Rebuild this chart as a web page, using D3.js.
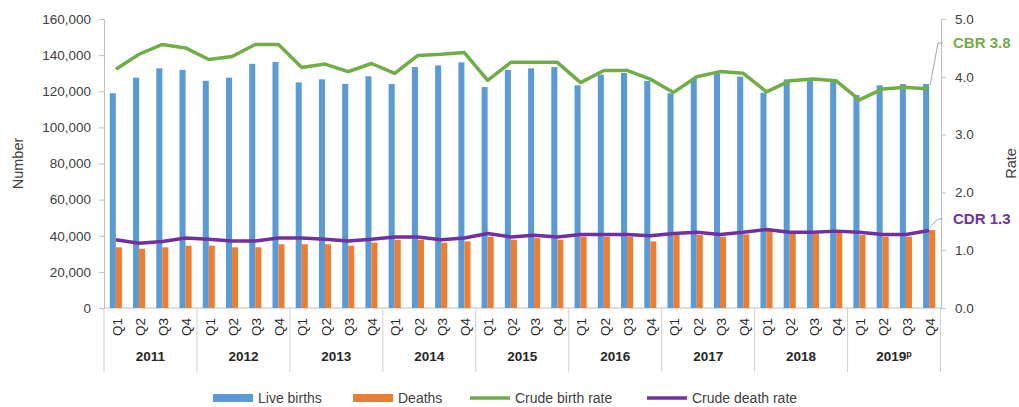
<!DOCTYPE html>
<html>
<head>
<meta charset="utf-8">
<script src="https://cdn.jsdelivr.net/npm/d3@7"></script>
<style>
  body { margin: 0; background: #fff; }
  svg { font-family: "Liberation Sans", Arial, sans-serif; }
  .axis text { fill: #404040; font-size: 13.5px; }
  .axis path, .axis line { stroke: #bfbfbf; }
</style>
</head>
<body>
<div id="chart"></div>
<script>
// Quarterly births and deaths, 2011 - 2019
const years = ['2011', '2012', '2013', '2014', '2015', '2016', '2017', '2018', '2019'];
const quarters = ['Q1', 'Q2', 'Q3', 'Q4'];

const liveBirths = [
    118900, 127500, 132700, 131800,
    125800, 127500, 135200, 136200,
    124900, 126600, 124100, 128300,
    124000, 133400, 134300, 136000,
    122300, 131800, 132700, 133400,
    123300, 129200, 130100, 125700,
    118900, 126800, 129900, 128100,
    119200, 126600, 126200, 125300,
    117900, 123300, 124000, 124000
];
const deaths = [
    33600, 32800, 33600, 34500,
    34500, 33600, 33600, 35300,
    35300, 35300, 34500, 36200,
    37800, 37800, 36200, 36900,
    39500, 37800, 38700, 37800,
    39500, 39500, 39500, 36900,
    40400, 40400, 39500, 40800,
    43200, 41300, 41300, 42100,
    40400, 39500, 39500, 43200
];
const crudeBirthRate = [
    4.13, 4.39, 4.56, 4.50,
    4.30, 4.35, 4.56, 4.56,
    4.16, 4.22, 4.09, 4.23,
    4.06, 4.37, 4.39, 4.42,
    3.94, 4.25, 4.25, 4.25,
    3.90, 4.11, 4.11, 3.96,
    3.73, 4.00, 4.09, 4.06,
    3.74, 3.93, 3.96, 3.93,
    3.60, 3.79, 3.82, 3.79
];
const crudeDeathRate = [
    1.18, 1.12, 1.15, 1.21,
    1.19, 1.16, 1.16, 1.21,
    1.21, 1.19, 1.16, 1.19,
    1.23, 1.23, 1.18, 1.21,
    1.29, 1.23, 1.26, 1.23,
    1.27, 1.27, 1.27, 1.25,
    1.29, 1.31, 1.27, 1.31,
    1.36, 1.31, 1.31, 1.33,
    1.31, 1.27, 1.27, 1.34
];
const numberTicks = [0, 20000, 40000, 60000, 80000, 100000, 120000, 140000, 160000];
const rateTicks = [0, 1, 2, 3, 4, 5];

class ComboChart {
    constructor(config) {
        this.config = {
            parentElement: config.parentElement,
            containerWidth: 1019,
            containerHeight: 407,
            margin: { top: 19, right: 78, bottom: 99, left: 104 },
            colors: { births: '#5b9bd5', deaths: '#ed7d31', cbr: '#70ad47', cdr: '#7030a0' }
        };
        this.initVis();
    }

    initVis() {
        let vis = this;
        const m = vis.config.margin;
        vis.width = vis.config.containerWidth - m.left - m.right;
        vis.height = vis.config.containerHeight - m.top - m.bottom;

        // one entry per quarter
        vis.data = years.flatMap((y, yi) => quarters.map((q, qi) => {
            const i = yi * 4 + qi;
            return {
                key: y + q, year: y, quarter: q,
                births: liveBirths[i], deaths: deaths[i],
                cbr: crudeBirthRate[i], cdr: crudeDeathRate[i]
            };
        }));

        vis.xScale = d3.scaleBand()
            .domain(vis.data.map(d => d.key))
            .range([0, vis.width])
            .paddingInner(0.48)
            .paddingOuter(0.25);

        vis.xSub = d3.scaleBand()
            .domain(['births', 'deaths'])
            .range([0, vis.xScale.bandwidth()]);

        vis.yScale = d3.scaleLinear().domain([0, 160000]).range([vis.height, 0]);
        vis.rScale = d3.scaleLinear().domain([0, 5]).range([vis.height, 0]);

        vis.svg = d3.select(vis.config.parentElement)
            .append('svg')
            .attr('width', vis.config.containerWidth)
            .attr('height', vis.config.containerHeight);

        vis.chart = vis.svg.append('g')
            .attr('transform', `translate(${m.left},${m.top})`);

        vis.updateVis();
    }

    updateVis() {
        let vis = this;
        vis.xCenter = d => vis.xScale(d.key) - vis.xScale.step() * vis.xScale.paddingInner() / 2 + vis.xScale.step() / 2;
        vis.renderVis();
    }

    renderVis() {
        let vis = this;
        const c = vis.config.colors;

        // Axes
        vis.chart.append('g')
            .attr('class', 'axis y-axis')
            .call(d3.axisLeft(vis.yScale).tickValues(numberTicks).tickSize(5).tickPadding(8).tickFormat(d3.format(',')));

        vis.chart.append('g')
            .attr('class', 'axis r-axis')
            .attr('transform', `translate(${vis.width},0)`)
            .call(d3.axisRight(vis.rScale).tickValues(rateTicks).tickSize(5).tickPadding(9).tickFormat(d3.format('.1f')));

        vis.chart.append('line')
            .attr('x1', 0).attr('x2', vis.width)
            .attr('y1', vis.height).attr('y2', vis.height)
            .attr('stroke', '#bfbfbf');

        // Year separators
        const step = vis.xScale.step();
        vis.chart.selectAll('.year-sep')
            .data(d3.range(years.length + 1))
            .join('line')
            .attr('class', 'year-sep')
            .attr('x1', i => i * 4 * step).attr('x2', i => i * 4 * step)
            .attr('y1', vis.height).attr('y2', vis.height + 64)
            .attr('stroke', '#d0d0d0');

        // Bars
        vis.chart.selectAll('.bar-births')
            .data(vis.data)
            .join('rect')
            .attr('class', 'bar-births')
            .attr('x', d => vis.xScale(d.key) + vis.xSub('births'))
            .attr('width', vis.xSub.bandwidth())
            .attr('y', d => vis.yScale(d.births))
            .attr('height', d => vis.height - vis.yScale(d.births))
            .attr('fill', c.births);

        vis.chart.selectAll('.bar-deaths')
            .data(vis.data)
            .join('rect')
            .attr('class', 'bar-deaths')
            .attr('x', d => vis.xScale(d.key) + vis.xSub('deaths'))
            .attr('width', vis.xSub.bandwidth())
            .attr('y', d => vis.yScale(d.deaths))
            .attr('height', d => vis.height - vis.yScale(d.deaths))
            .attr('fill', c.deaths);

        // Lines
        const cbrLine = d3.line().x(d => vis.xCenter(d)).y(d => vis.rScale(d.cbr));
        const cdrLine = d3.line().x(d => vis.xCenter(d)).y(d => vis.rScale(d.cdr));

        vis.chart.append('path')
            .datum(vis.data)
            .attr('d', cbrLine)
            .attr('fill', 'none')
            .attr('stroke', c.cbr)
            .attr('stroke-width', 3.5)
            .attr('stroke-linejoin', 'round');

        vis.chart.append('path')
            .datum(vis.data)
            .attr('d', cdrLine)
            .attr('fill', 'none')
            .attr('stroke', c.cdr)
            .attr('stroke-width', 3.5)
            .attr('stroke-linejoin', 'round');

        // Callout labels for last values
        const last = vis.data[vis.data.length - 1];
        const callouts = [
            { text: 'CBR ' + last.cbr.toFixed(1), color: c.cbr, y: 24, value: last.cbr },
            { text: 'CDR ' + last.cdr.toFixed(1), color: c.cdr, y: 200, value: last.cdr }
        ];
        callouts.forEach(o => {
            vis.chart.append('polyline')
                .attr('points', `${vis.xCenter(last) + 1},${vis.rScale(o.value) - 4} ${vis.width - 3},${o.y} ${vis.width + 2},${o.y}`)
                .attr('fill', 'none')
                .attr('stroke', '#a6a6a6');
            vis.chart.append('text')
                .attr('x', vis.width + 12)
                .attr('y', o.y)
                .attr('dy', '0.35em')
                .attr('fill', o.color)
                .style('font-size', '15px')
                .style('font-weight', 'bold')
                .text(o.text);
        });

        // Quarter labels
        vis.chart.selectAll('.q-label')
            .data(vis.data)
            .join('text')
            .attr('class', 'q-label')
            .attr('transform', d => `translate(${vis.xCenter(d) + 1},${vis.height + 19}) rotate(-90)`)
            .attr('text-anchor', 'middle')
            .attr('dy', '0.35em')
            .attr('fill', '#262626')
            .style('font-size', '13.5px')
            .text(d => d.quarter);

        // Year labels
        const yearText = vis.chart.selectAll('.y-label')
            .data(years)
            .join('text')
            .attr('class', 'y-label')
            .attr('x', (d, i) => (i * 4 + 2) * step)
            .attr('y', vis.height + 53)
            .attr('text-anchor', 'middle')
            .attr('fill', '#262626')
            .style('font-size', '13.5px')
            .style('font-weight', 'bold')
            .text(d => d);
        yearText.filter(d => d === '2019')
            .append('tspan')
            .attr('dy', '-0.45em')
            .style('font-size', '9px')
            .text('p');

        // Axis titles
        vis.svg.append('text')
            .attr('transform', `translate(18,${vis.config.margin.top + vis.height / 2}) rotate(-90)`)
            .attr('text-anchor', 'middle')
            .attr('dy', '0.35em')
            .attr('fill', '#404040')
            .style('font-size', '14.5px')
            .text('Number');

        vis.svg.append('text')
            .attr('transform', `translate(1011,${vis.config.margin.top + vis.height / 2}) rotate(-90)`)
            .attr('text-anchor', 'middle')
            .attr('dy', '0.35em')
            .attr('fill', '#404040')
            .style('font-size', '14.5px')
            .text('Rate');

        // Legend
        const legendItems = [
            { label: 'Live births', color: c.births, type: 'rect', x: 213 },
            { label: 'Deaths', color: c.deaths, type: 'rect', x: 353 },
            { label: 'Crude birth rate', color: c.cbr, type: 'line', x: 470 },
            { label: 'Crude death rate', color: c.cdr, type: 'line', x: 647 }
        ];
        const legend = vis.svg.append('g').attr('transform', 'translate(0,398)');
        const li = legend.selectAll('.legend-item')
            .data(legendItems)
            .join('g')
            .attr('class', 'legend-item')
            .attr('transform', d => `translate(${d.x},0)`);
        li.filter(d => d.type === 'rect').append('rect')
            .attr('x', 0).attr('y', -4).attr('width', 40).attr('height', 8)
            .attr('fill', d => d.color);
        li.filter(d => d.type === 'line').append('line')
            .attr('x1', 0).attr('x2', 40).attr('y1', 0).attr('y2', 0)
            .attr('stroke', d => d.color).attr('stroke-width', 3.5);
        li.append('text')
            .attr('x', 45).attr('dy', '0.35em')
            .attr('fill', '#404040')
            .style('font-size', '14px')
            .text(d => d.label);
    }
}

new ComboChart({ parentElement: '#chart' });
</script>
</body>
</html>
